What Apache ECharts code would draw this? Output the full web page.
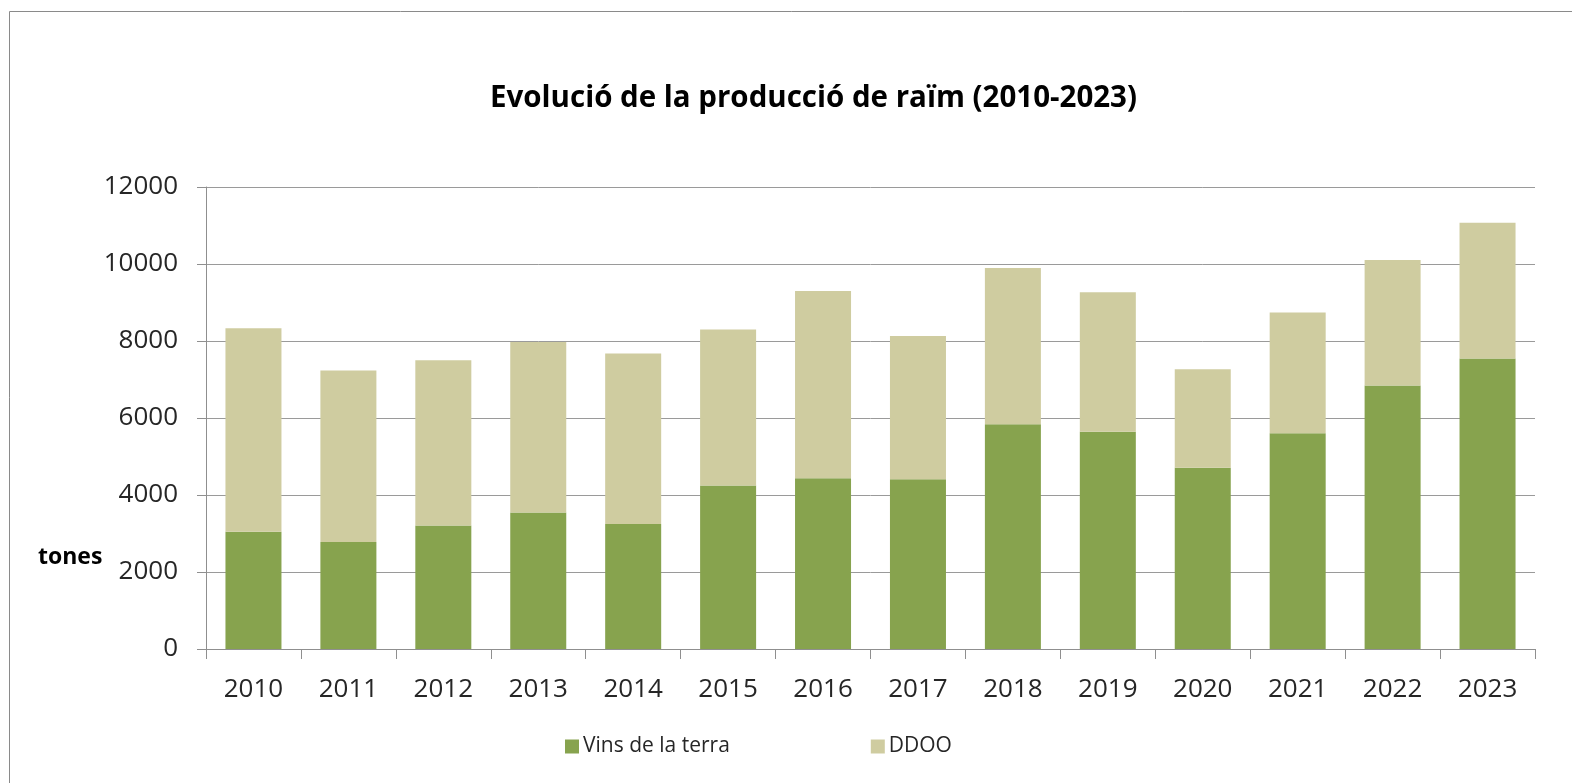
<!DOCTYPE html>
<html>
<head>
<meta charset="utf-8">
<script src="https://cdn.jsdelivr.net/npm/echarts@6/dist/echarts.min.js"></script>
<style>
html,body{margin:0;padding:0;background:#fff;}
#chart{width:1572px;height:783px;}
</style>
</head>
<body>
<div id="chart"></div>
<script>
var titleText = 'Evolució de la producció de raïm (2010-2023)';
var unitLabel = 'tones';
var categories = ['2010','2011','2012','2013','2014','2015','2016','2017','2018','2019','2020','2021','2022','2023'];
var seriesNames = ['Vins de la terra', 'DDOO'];
var vinsDeLaTerra = [3045, 2777, 3210, 3547, 3244, 4248, 4438, 4412, 5839, 5640, 4706, 5606, 6843, 7544];
var ddoo = [5286, 4455, 4290, 4429, 4429, 4048, 4862, 3720, 4058, 3625, 2561, 3132, 3261, 3529];
var yTicks = [0, 2000, 4000, 6000, 8000, 10000, 12000];

var chart = echarts.init(document.getElementById('chart'));
var textColor = '#262626';
var font = '"Open Sans", "Noto Sans", sans-serif';

chart.setOption({
  animation: false,
  backgroundColor: '#fff',
  title: {
    text: titleText,
    left: 485,
    top: 79,
    textStyle: { fontFamily: font, fontSize: 29.5, fontWeight: 'bold', color: '#000' }
  },
  graphic: [
    {
      type: 'rect',
      shape: { x: 9.5, y: 11.5, width: 1700, height: 900 },
      style: { fill: 'none', stroke: '#8a8a8a', lineWidth: 1 },
      silent: true
    },
    {
      type: 'text',
      left: 38,
      top: 546,
      style: { text: unitLabel, font: 'bold 23px ' + font, fill: '#000' }
    }
  ],
  legend: {
    left: 560,
    top: 731,
    itemWidth: 14,
    itemHeight: 14,
    itemGap: 141,
    icon: 'rect',
    textStyle: { fontFamily: font, fontSize: 21, color: textColor, padding: [0,0,0,-1] },
    data: seriesNames
  },
  grid: { left: 206, right: 37, top: 187, bottom: 134, containLabel: false },
  xAxis: {
    type: 'category',
    data: categories,
    boundaryGap: true,
    axisLine: { lineStyle: { color: '#8f8f8f', width: 1 } },
    axisTick: { show: true, length: 10, lineStyle: { color: '#8f8f8f' } },
    axisLabel: { fontFamily: font, fontSize: 26, color: textColor, margin: 28 }
  },
  yAxis: {
    type: 'value',
    min: yTicks[0],
    max: yTicks[yTicks.length - 1],
    interval: yTicks[1] - yTicks[0],
    axisLine: { show: true, lineStyle: { color: '#8f8f8f', width: 1 } },
    axisTick: { show: true, length: 9, lineStyle: { color: '#8f8f8f' } },
    axisLabel: { fontFamily: font, fontSize: 26, color: textColor, margin: 28,
      formatter: function (v) { return String(v); } },
    splitLine: { show: true, lineStyle: { color: '#9a9a9a', width: 1 } }
  },
  series: [
    {
      name: seriesNames[0],
      type: 'bar',
      stack: 'total',
      data: vinsDeLaTerra,
      barCategoryGap: '41%',
      itemStyle: { color: '#87a34e' }
    },
    {
      name: seriesNames[1],
      type: 'bar',
      stack: 'total',
      data: ddoo,
      barCategoryGap: '41%',
      itemStyle: { color: '#cfcca0' }
    }
  ]
});
</script>
</body>
</html>
